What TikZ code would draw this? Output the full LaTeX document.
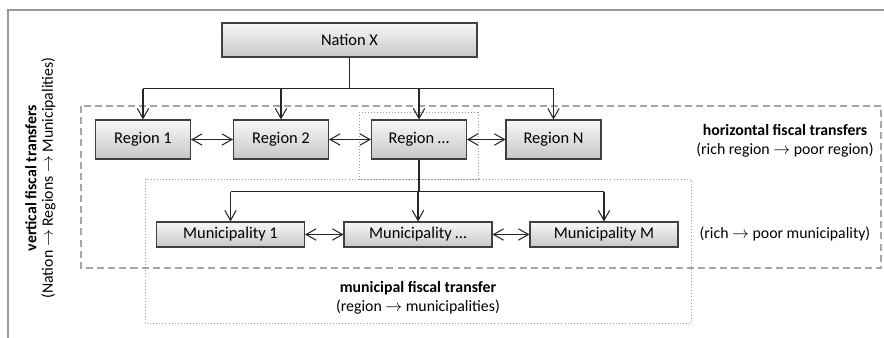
\documentclass[tikz,border=0pt]{standalone}
\usepackage{fontspec}
\setmainfont{Carlito}
\usetikzlibrary{arrows.meta}

\tikzset{
  unitbox/.style={draw=black!75, line width=0.9pt, top color=black!3, bottom color=black!22,
    font=\fontsize{14}{16}\selectfont, inner sep=0pt},
  regionbox/.style={unitbox, minimum width=2.85cm, minimum height=1.17cm},
  munibox/.style={unitbox, minimum width=4.44cm, minimum height=0.75cm},
  trunk/.style={draw=black!85, line width=1.5pt},
  flow/.style={draw=black!85, line width=0.9pt, -{Straight Barb[length=3mm,width=3.4mm]}},
  swap/.style={flow, {Straight Barb[length=3mm,width=3.4mm]}-{Straight Barb[length=3mm,width=3.4mm]}},
  zone/.style={draw=black!35, line width=1pt, dash pattern=on 6pt off 3.5pt},
  subzone/.style={draw=black!40, line width=0.6pt, dotted},
  caption/.style={font=\fontsize{13.5}{16.5}\selectfont, align=center, inner sep=0pt}
}

\begin{document}
\begin{tikzpicture}[x=0.03cm, y=-0.03cm]
  \useasboundingbox (0,0) rectangle (884,338);

  % Frame
  \draw [black!40, line width=1pt] (884,10) -- (8,10) -- (8,338);

  % Transfer zones
  \draw [zone] (81,106) rectangle (881,268);
  \draw [subzone] (359,112) rectangle (478,179);
  \draw [subzone] (145,179) rectangle (691,323);

  % Nation
  \node [unitbox, minimum width=7.65cm, minimum height=1.02cm] (nation) at (349.5,40) {Nation X};

  % Regions
  \node [regionbox] (r1) at (143,139.5) {Region 1};
  \node [regionbox] (r2) at (281,139.5) {Region 2};
  \node [regionbox] (rdots) at (419,139.5) {Region …};
  \node [regionbox] (rN) at (553.5,139.5) {Region N};

  % Municipalities
  \node [munibox] (m1) at (230.5,234.5) {Municipality 1};
  \node [munibox] (mdots) at (418,234.5) {Municipality …};
  \node [munibox] (mM) at (604,234.5) {Municipality M};

  % Nation -> regions
  \path (nation.south) ++(0,31) coordinate (nsplit);
  \draw [trunk] (nation.south) -- (nsplit);
  \draw [trunk] (nsplit -| r1.north) -- (nsplit -| rN.north);
  \foreach \r in {r1,r2,rdots,rN}
    \draw [flow] (nsplit -| \r.north) -- (\r.north);

  % Region -> municipalities
  \path (rdots.south) ++(0,32) coordinate (rsplit);
  \draw [trunk] (rdots.south) -- (rsplit);
  \draw [trunk] (rsplit -| m1.north) -- (rsplit -| mM.north);
  \foreach \m in {m1,mdots,mM}
    \draw [flow] (rsplit -| \m.north) -- (\m.north);

  % Horizontal exchanges
  \draw [swap] (r1) -- (r2);
  \draw [swap] (r2) -- (rdots);
  \draw [swap] (rdots) -- (rN);
  \draw [swap] (m1) -- (mdots);
  \draw [swap] (mdots) -- (mM);

  % Captions
  \node [caption, rotate=90, font=\fontsize{13.5}{14}\selectfont] (vertical) at (40.5,178) {\textbf{vertical fiscal transfers}\\(Nation $\rightarrow$ Regions $\rightarrow$ Municipalities)};
  \node [caption] (horizontal) at (785,141) {\textbf{horizontal fiscal transfers}\\(rich region $\rightarrow$ poor region)};
  \node [caption] (richpoor) at (785,234) {(rich $\rightarrow$ poor municipality)};
  \node [caption] (municipal) at (418,298) {\textbf{municipal fiscal transfer}\\(region $\rightarrow$ municipalities)};
\end{tikzpicture}
\end{document}
